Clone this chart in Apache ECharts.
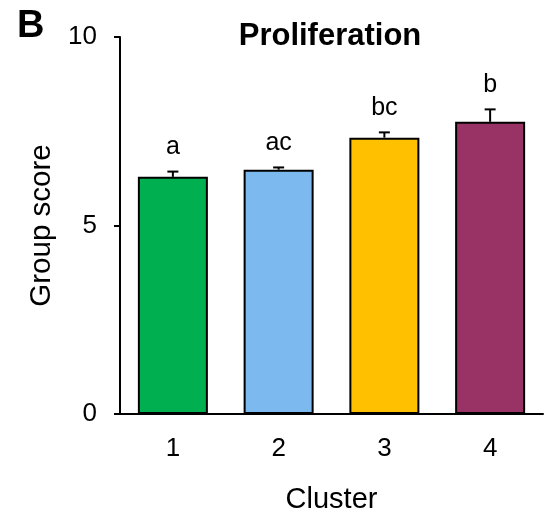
<!DOCTYPE html>
<html>
<head>
<meta charset="utf-8">
<script src="https://cdn.jsdelivr.net/npm/echarts@6/dist/echarts.min.js"></script>
<style>
  html, body { margin: 0; padding: 0; background: #fff; }
  #chart { width: 546px; height: 516px; }
</style>
</head>
<body>
<div id="chart"></div>
<script>
// Proliferation group score per cluster (mean with upper error)
const clusters = ['1', '2', '3', '4'];
const groupScore = [6.29, 6.48, 7.33, 7.75];
const scoreError = [0.14, 0.06, 0.14, 0.33];
const sigLetters = ['a', 'ac', 'bc', 'b'];
const barColors = ['#00B050', '#7CB9EE', '#FFC000', '#993366'];
const yTicks = [0, 5, 10];

const FONT = 'Liberation Sans, Arial, sans-serif';

const chart = echarts.init(document.getElementById('chart'), null, { renderer: 'canvas' });

const errorData = clusters.map((c, i) => [i, groupScore[i], scoreError[i], sigLetters[i]]);

chart.setOption({
  animation: false,
  backgroundColor: '#ffffff',
  title: [
    {
      text: 'Proliferation',
      left: 325,
      top: 16,
      textAlign: 'center',
      textStyle: { fontFamily: FONT, fontWeight: 'bold', fontSize: 31, color: '#000' }
    },
    {
      text: 'B',
      left: 12,
      top: 3,
      textStyle: { fontFamily: FONT, fontWeight: 'bold', fontSize: 38, color: '#000' }
    }
  ],
  grid: { left: 120, right: 3, top: 37, bottom: 102, outerBoundsMode: 'none' },
  xAxis: {
    type: 'category',
    data: clusters,
    name: 'Cluster',
    nameLocation: 'middle',
    nameGap: 71,
    nameTextStyle: { fontFamily: FONT, fontSize: 29, color: '#000' },
    axisLine: { lineStyle: { color: '#000', width: 2 } },
    axisTick: { show: false },
    axisLabel: { fontFamily: FONT, fontSize: 26, color: '#000', margin: 22 }
  },
  yAxis: {
    type: 'value',
    min: yTicks[0],
    max: yTicks[yTicks.length - 1],
    interval: 5,
    name: 'Group score',
    nameLocation: 'middle',
    nameGap: 61,
    nameTextStyle: { fontFamily: FONT, fontSize: 29.5, color: '#000' },
    axisLine: { show: true, lineStyle: { color: '#000', width: 2 } },
    axisTick: { show: true, inside: false, length: 6, lineStyle: { color: '#000', width: 2 } },
    axisLabel: { fontFamily: FONT, fontSize: 26, color: '#000', margin: 23 },
    splitLine: { show: false }
  },
  series: [
    {
      type: 'bar',
      data: groupScore.map((v, i) => ({ value: v, itemStyle: { color: barColors[i] } })),
      barWidth: 70,
      itemStyle: { borderColor: '#000', borderWidth: 2 },
      z: 2
    },
    {
      type: 'custom',
      data: errorData,
      z: 3,
      renderItem: function (params, api) {
        const x = api.value(0);
        const mean = api.value(1);
        const err = api.value(2);
        const base = api.coord([x, mean]);
        const top = api.coord([x, mean + err]);
        const capHalf = 5.5;
        return {
          type: 'group',
          children: [
            {
              type: 'line',
              shape: { x1: base[0], y1: base[1], x2: top[0], y2: top[1] },
              style: { stroke: '#000', lineWidth: 2 }
            },
            {
              type: 'line',
              shape: { x1: top[0] - capHalf, y1: top[1], x2: top[0] + capHalf, y2: top[1] },
              style: { stroke: '#000', lineWidth: 2 }
            },
            {
              type: 'text',
              x: top[0],
              y: top[1] - 24,
              style: {
                text: api.value(3),
                fontFamily: FONT,
                fontSize: 25,
                fill: '#000',
                align: 'center',
                verticalAlign: 'middle'
              }
            }
          ]
        };
      }
    }
  ]
});
</script>
</body>
</html>
